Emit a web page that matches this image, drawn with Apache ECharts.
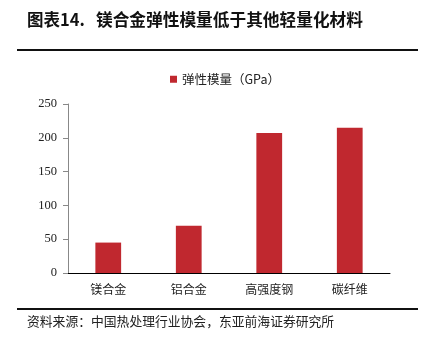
<!DOCTYPE html>
<html>
<head>
<meta charset="utf-8">
<script src="https://cdn.jsdelivr.net/npm/echarts@6/dist/echarts.min.js"></script>
<style>
  html, body { margin: 0; padding: 0; background: #fff; }
  #chart { width: 430px; height: 337px; }
</style>
</head>
<body>
<div id="chart"></div>
<script>
// Elastic modulus of lightweight materials (GPa)
var categories = ['镁合金', '铝合金', '高强度钢', '碳纤维'];
var modulus = [45, 70, 207, 215];
var seriesName = '弹性模量（GPa）';
var yTicks = [0, 50, 100, 150, 200, 250];

var chart = echarts.init(document.getElementById('chart'), null, { renderer: 'canvas' });

var cjk = '"Noto Sans CJK SC", sans-serif';
var serif = '"Liberation Serif", "Noto Sans CJK SC", serif';

chart.setOption({
  animation: false,
  backgroundColor: '#ffffff',
  grid: { left: 68, right: 40, top: 104, bottom: 64 },
  legend: {
    data: [seriesName],
    top: 68,
    left: 165,
    itemWidth: 7,
    itemHeight: 7,
    icon: 'rect',
    textStyle: { fontFamily: cjk, fontSize: 12.5, color: '#222' }
  },
  xAxis: {
    type: 'category',
    data: categories,
    axisLine: { lineStyle: { color: '#000', width: 1 } },
    axisTick: { show: false },
    axisLabel: { fontFamily: cjk, fontSize: 12, color: '#222', margin: 10 }
  },
  yAxis: {
    type: 'value',
    min: yTicks[0],
    max: yTicks[yTicks.length - 1],
    interval: 50,
    splitLine: { show: false },
    axisLine: { show: true, lineStyle: { color: '#888', width: 1 } },
    axisTick: { show: true, inside: false, length: 5, lineStyle: { color: '#888' } },
    axisLabel: { fontFamily: serif, fontSize: 12.5, color: '#222', margin: 11 }
  },
  series: [{
    name: seriesName,
    type: 'bar',
    data: modulus,
    barWidth: '32%',
    itemStyle: { color: '#C0282F' }
  }],
  graphic: [
    {
      type: 'text',
      x: 27, y: 20,
      style: {
        text: '图表14.',
        font: 'bold 16.5px "Noto Sans CJK SC", sans-serif',
        fill: '#111',
        verticalAlign: 'middle'
      }
    },
    {
      type: 'text',
      x: 96, y: 20,
      style: {
        text: '镁合金弹性模量低于其他轻量化材料',
        font: 'bold 16.7px "Noto Sans CJK SC", sans-serif',
        fill: '#111',
        verticalAlign: 'middle'
      }
    },
    {
      type: 'line',
      shape: { x1: 17, y1: 50, x2: 418, y2: 50 },
      style: { stroke: '#111', lineWidth: 2 }
    },
    {
      type: 'line',
      shape: { x1: 17, y1: 309, x2: 418, y2: 309 },
      style: { stroke: '#111', lineWidth: 2 }
    },
    {
      type: 'text',
      x: 27, y: 321,
      style: {
        text: '资料来源：中国热处理行业协会，东亚前海证券研究所',
        font: '12.8px "Noto Sans CJK SC", sans-serif',
        fill: '#222',
        verticalAlign: 'middle'
      }
    }
  ]
});
</script>
</body>
</html>
